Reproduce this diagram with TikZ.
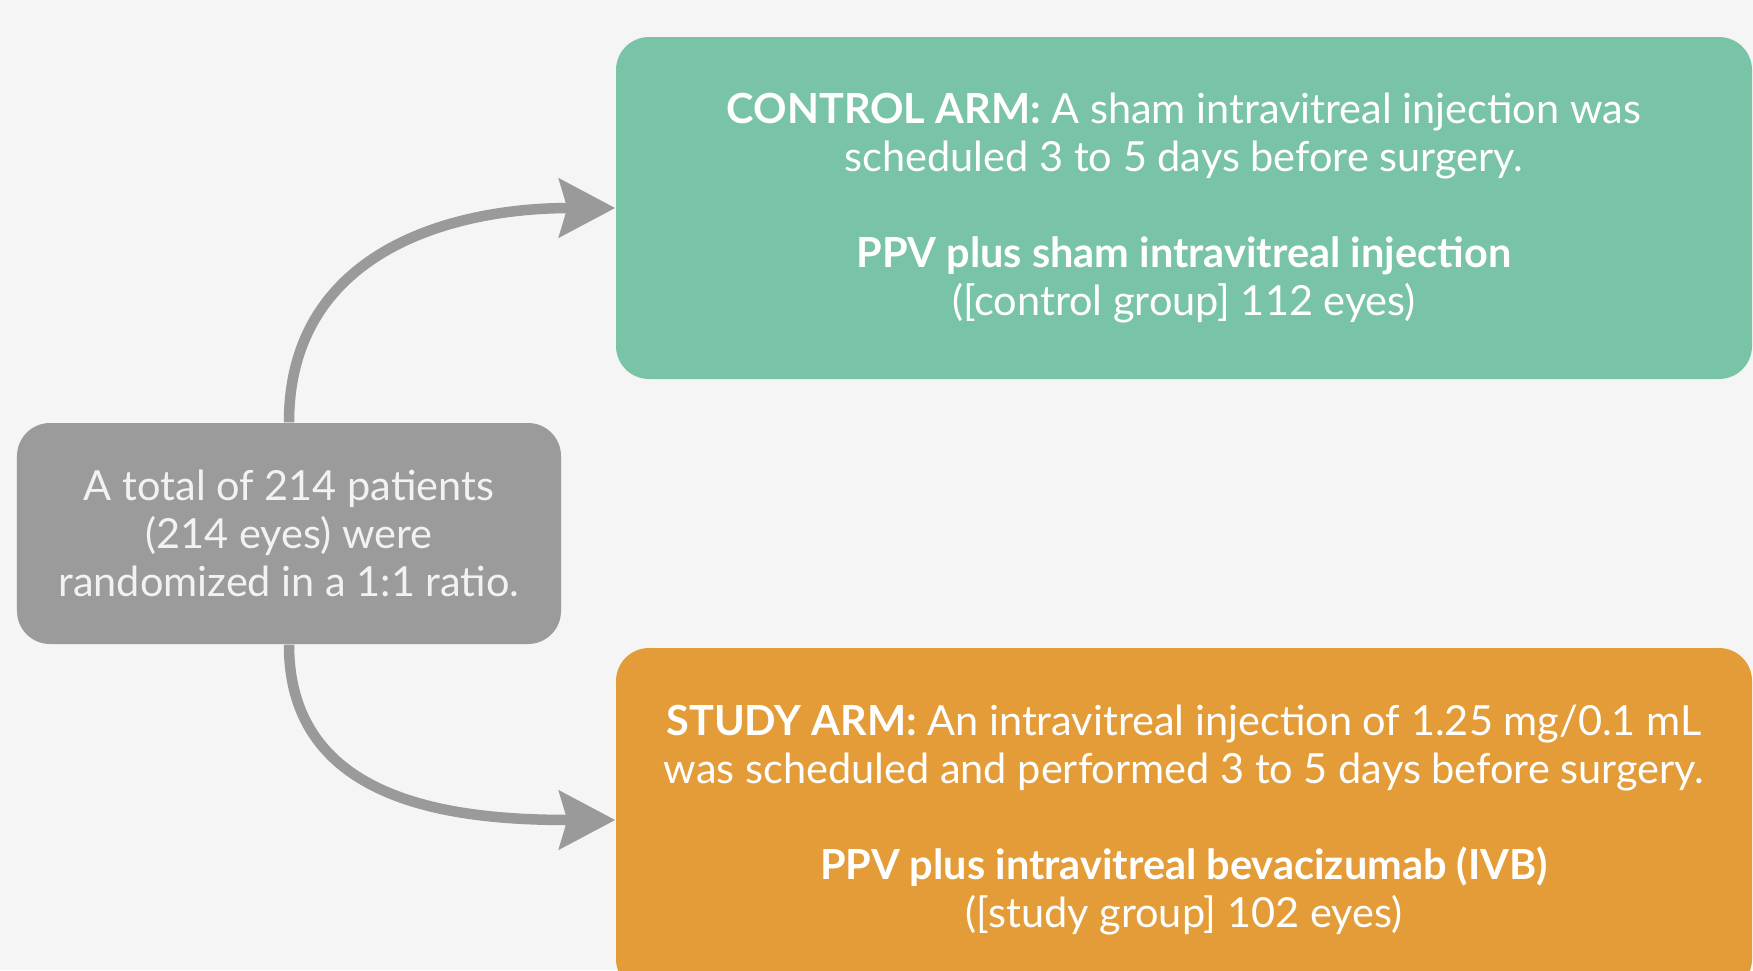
\documentclass[tikz,border=0pt]{standalone}
\usepackage{fontspec}
\setmainfont{Lato}
\usetikzlibrary{arrows.meta}
\definecolor{bgc}{HTML}{F5F5F5}
\definecolor{grayc}{HTML}{9B9B9B}
\definecolor{greenc}{HTML}{79C4A6}
\definecolor{orangec}{HTML}{E39C38}
\definecolor{arrc}{HTML}{9A9A9A}
\definecolor{txtgray}{HTML}{F2F2F2}
\tikzset{
  boxbase/.style={rounded corners=3.3mm, inner sep=0pt, align=center,
    font=\fontsize{11.8}{13.7}\selectfont, text=white},
  graybox/.style={boxbase, fill=grayc, text=txtgray, minimum width=54.4mm, minimum height=22.1mm},
  greenbox/.style={boxbase, fill=greenc, minimum width=113.6mm, minimum height=34.2mm},
  orangebox/.style={boxbase, fill=orangec, minimum width=113.6mm, minimum height=34.4mm},
  arr/.style={draw=arrc, line width=1.05mm, -{Stealth[length=5.6mm, width=5.8mm, inset=0.8mm]}}
}
\begin{document}
\begin{tikzpicture}[x=1mm,y=-1mm]
\useasboundingbox (0,0) rectangle (175.3,97);
\clip (0,0) rectangle (175.3,97);
\fill[bgc] (0,0) rectangle (175.3,97);
\node[graybox] (total) at (28.9,53.35) {A total of 214 patients\\(214 eyes) were\\randomized in a 1:1 ratio.};
\node[greenbox] (control) at (118.4,20.8) {\textbf{CONTROL ARM:} A sham intravitreal injection was\\scheduled 3 to 5 days before surgery.\\[4.8mm]\textbf{PPV plus sham intravitreal injection}\\([control group] 112 eyes)};
\node[orangebox] (study) at (118.4,82.0) {\textbf{STUDY ARM:} An intravitreal injection of 1.25 mg/0.1 mL\\was scheduled and performed 3 to 5 days before surgery.\\[4.8mm]\textbf{PPV plus intravitreal bevacizumab (IVB)}\\([study group] 102 eyes)};
\draw[arr] (total.north) to[out=90, in=180, looseness=1.1] (control.west);
\draw[arr] (total.south) to[out=-90, in=180, looseness=1.1] (study.west);
\end{tikzpicture}
\end{document}
